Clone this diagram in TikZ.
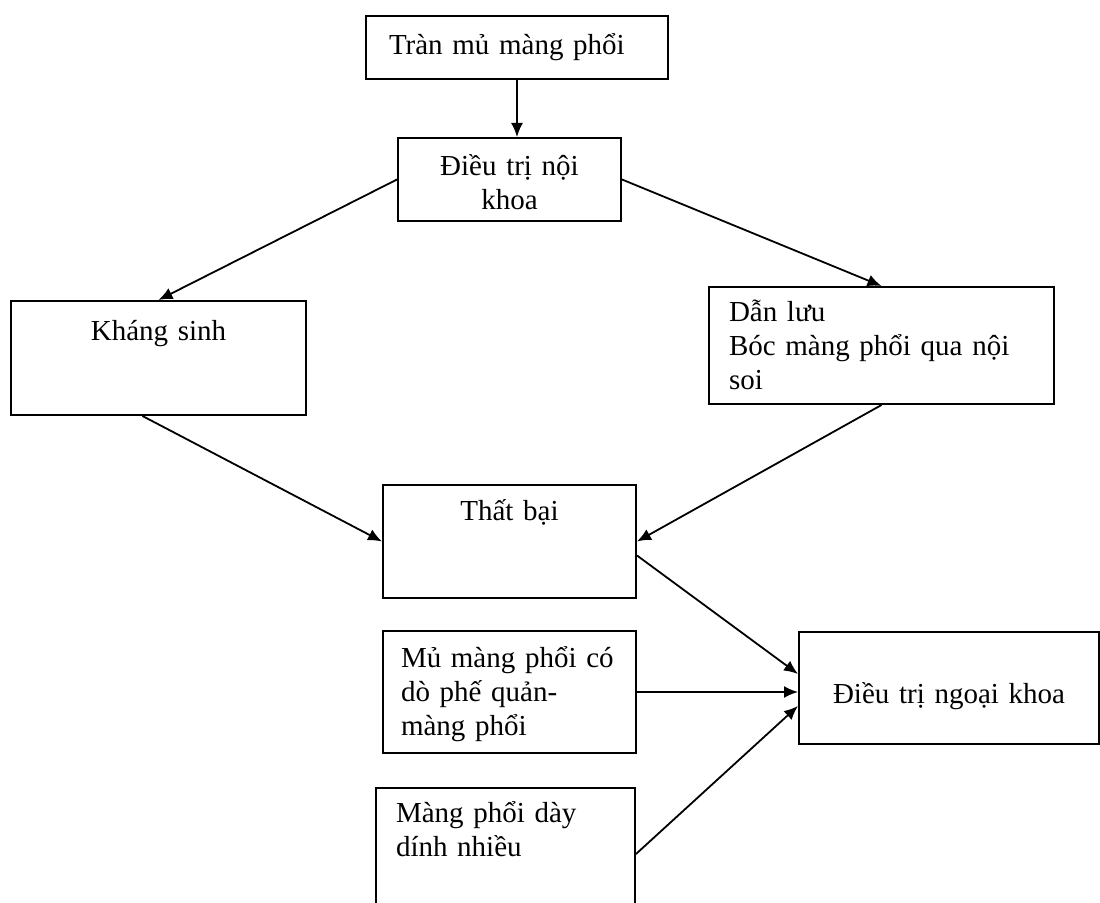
\documentclass[tikz,border=0pt]{standalone}
\usepackage{fontspec}
\setmainfont{Liberation Serif}
\usetikzlibrary{arrows.meta}
\begin{document}
\begin{tikzpicture}[x=0.5pt,y=-0.5pt]
		\tikzset{blk/.style = {draw, line width=1pt, anchor=north west, inner sep=0pt, align=left, font=\fontsize{14.5}{17}\selectfont}}
		\tikzset{lft/.style = {blk, execute at begin node={\leftskip=#1}}}
		\tikzset{ctr/.style = {blk, align=center}}
		\tikzset{arr/.style = {->, >={Latex[length=7pt,width=6pt]}, line width=0.9pt}}
		\path[use as bounding box, clip] (0,0) rectangle (1100,903);
		\node[lft=11.5pt, text width=151pt, text height=19.5pt, text depth=12pt] (tran) at (365,15) {Tràn mủ màng phổi};
		\node[ctr, text width=111.5pt, text height=19pt, text depth=22.5pt] (noikhoa) at (397,137) {Điều trị nội\\khoa};
		\node[ctr, text width=147.5pt, text height=20pt, text depth=37pt] (khangsinh) at (10,300) {Kháng sinh};
		\node[lft=10pt, text width=172.5pt, text height=17.5pt, text depth=41pt] (danluu) at (708,286) {Dẫn lưu\\Bóc màng phổi qua nội\\soi};
		\node[ctr, text width=126.5pt, text height=18pt, text depth=38.5pt] (thatbai) at (382,484) {Thất bại};
		\node[lft=9pt, text width=126.5pt, text height=18.5pt, text depth=42.5pt] (mu) at (382,630) {Mủ màng phổi có\\dò phế quản-\\màng phổi};
		\node[lft=10pt, text width=129.5pt, text height=17.5pt, text depth=48.5pt] (day) at (375,787) {Màng phổi dày\\dính nhiều};
		\node[ctr, text width=150pt, text height=36pt, text depth=20pt] (ngoai) at (798,631) {Điều trị ngoại khoa};
		\draw[arr] (tran.south) -- (tran.south |- noikhoa.north);
		\draw[arr] (noikhoa.west) -- (khangsinh.north);
		\draw[arr] (noikhoa.east) -- (danluu.north);
		\draw[arr] ([xshift=-8pt]khangsinh.south) -- (thatbai.west);
		\draw[arr] (danluu.south) -- (thatbai.east);
		\draw[arr] ([yshift=-7pt]thatbai.east) -- ([yshift=7pt]ngoai.west);
		\draw[arr] (mu.east) -- (mu.east -| ngoai.west);
		\draw[arr] (day.east) -- ([yshift=-9pt]ngoai.west);
	\end{tikzpicture}
\end{document}
